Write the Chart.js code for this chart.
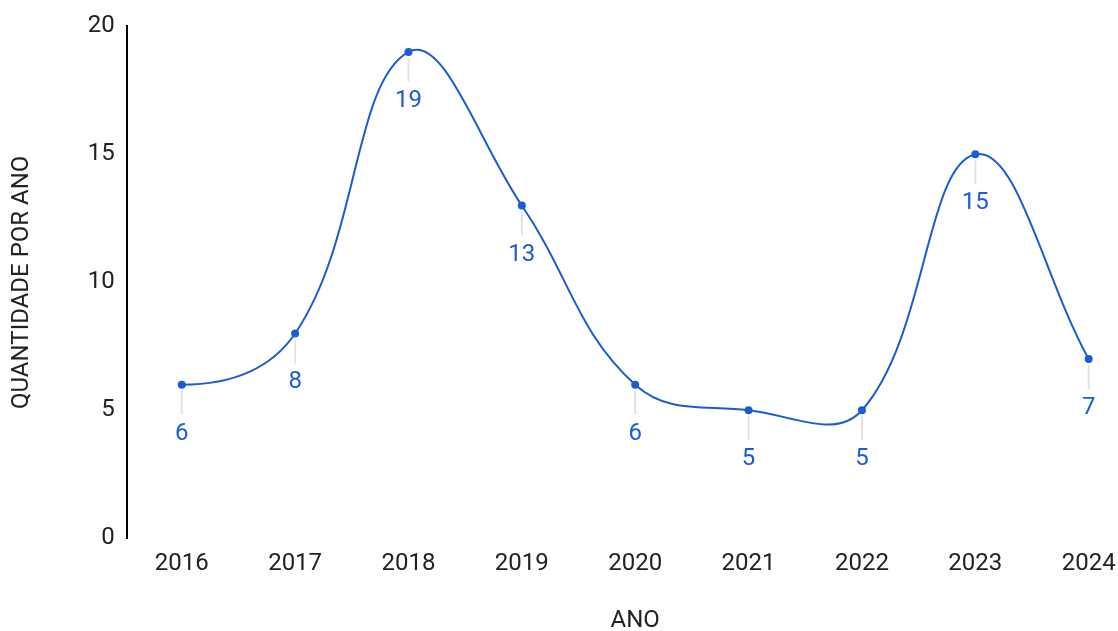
<!DOCTYPE html>
<html>
<head>
<meta charset="utf-8">
<script src="https://cdn.jsdelivr.net/npm/chart.js@4.4.1/dist/chart.umd.min.js"></script>
<style>
html,body{margin:0;padding:0;background:#fff;overflow:hidden;}
#wrap{width:1118px;height:631px;position:relative;}
</style>
</head>
<body>
<div id="wrap"><canvas id="c" width="1118" height="631"></canvas></div>
<script>
const years = [2016, 2017, 2018, 2019, 2020, 2021, 2022, 2023, 2024];
const values = [6, 8, 19, 13, 6, 5, 5, 15, 7];
const yTicks = [0, 5, 10, 15, 20];
const xTitle = 'ANO';
const yTitle = 'QUANTIDADE POR ANO';

const BLUE = '#1a5cd1';
const TEXT = '#222222';
const FONT = 'Roboto, "Liberation Sans", sans-serif';

const labelPlugin = {
  id: 'pointLabels',
  beforeDatasetsDraw(chart) {
    const meta = chart.getDatasetMeta(0);
    const line = meta.dataset;
    if (line && line.updateControlPoints) {
      line.updateControlPoints(chart.chartArea, 'x');
      const p0 = meta.data[0];
      p0.cp2y = p0.y;
    }
  },
  afterDatasetsDraw(chart) {
    const ctx = chart.ctx;
    const meta = chart.getDatasetMeta(0);
    ctx.save();
    meta.data.forEach((pt, i) => {
      ctx.strokeStyle = '#e3e3e3';
      ctx.lineWidth = 2;
      ctx.beginPath();
      ctx.moveTo(pt.x, pt.y + 6);
      ctx.lineTo(pt.x, pt.y + 30);
      ctx.stroke();
      ctx.fillStyle = BLUE;
      ctx.font = '24px ' + FONT;
      ctx.textAlign = 'center';
      ctx.textBaseline = 'middle';
      ctx.fillText(String(values[i]), pt.x, pt.y + 49);
    });
    ctx.restore();
  },
  afterDraw(chart) {
    const ctx = chart.ctx;
    const xs = chart.scales.x;
    const cx = (xs.getPixelForValue(years[0]) + xs.getPixelForValue(years[years.length - 1])) / 2;
    ctx.save();
    ctx.fillStyle = TEXT;
    ctx.font = '24px ' + FONT;
    ctx.textAlign = 'center';
    ctx.textBaseline = 'middle';
    ctx.fillText(xTitle, cx, 621);
    ctx.restore();
  }
};

new Chart(document.getElementById('c'), {
  type: 'line',
  data: {
    datasets: [{
      data: years.map((y, i) => ({ x: y, y: values[i] })),
      borderColor: BLUE,
      backgroundColor: BLUE,
      borderWidth: 2,
      pointRadius: 4,
      pointHoverRadius: 4,
      pointBackgroundColor: BLUE,
      pointBorderWidth: 0,
      tension: 0.4,
      fill: false
    }]
  },
  options: {
    responsive: false,
    animation: false,
    devicePixelRatio: 1,
    layout: { padding: { left: 8, right: 18, top: 20, bottom: 42 } },
    plugins: { legend: { display: false }, tooltip: { enabled: false } },
    scales: {
      x: {
        type: 'linear',
        min: 2015.515,
        max: 2024.1,
        grid: { display: false, drawTicks: false },
        border: { display: false },
        afterBuildTicks(scale) { scale.ticks = years.map(v => ({ value: v })); },
        afterFit(scale) { scale.paddingLeft = 0; scale.paddingRight = 0; },
        ticks: {
          color: TEXT,
          font: { family: FONT, size: 24 },
          padding: 11,
          maxRotation: 0,
          autoSkip: false,
          callback: v => String(v)
        }
      },
      y: {
        min: 0,
        max: 20,
        grid: { display: false, drawTicks: false },
        border: { display: true, color: '#000000', width: 2 },
        afterBuildTicks(scale) { scale.ticks = yTicks.map(v => ({ value: v })); },
        ticks: {
          color: TEXT,
          font: { family: FONT, size: 24 },
          padding: 12
        },
        title: {
          display: true,
          text: yTitle,
          color: TEXT,
          font: { family: FONT, size: 24 },
          padding: { top: 0, bottom: 39 }
        }
      }
    }
  },
  plugins: [labelPlugin]
});
</script>
</body>
</html>
